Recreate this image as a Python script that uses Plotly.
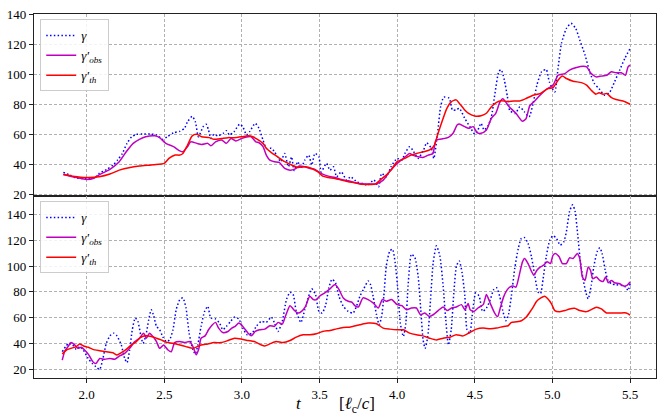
import plotly.graph_objects as go
from plotly.subplots import make_subplots

# ---------------- top panel ----------------
t_gamma_top = [1.85,1.89,1.93,2.0,2.05,2.08,2.13,2.17,2.2,2.23,
               2.26,2.29,2.32,2.36,2.41,2.45,2.49,2.52,2.56,2.6,
               2.63,2.65,2.68,2.70,2.72,2.75,2.77,2.785,2.8,2.82,
               2.845,2.88,2.9,2.92,2.95,2.985,3.006,3.03,3.05,3.086,
               3.11,3.136,3.157,3.19,3.21,3.23,3.25,3.275,3.3,3.32,
               3.336,3.36,3.38,3.405,3.43,3.45,3.47,3.496,3.51,3.545,
               3.567,3.59,3.61,3.64,3.675,3.7,3.74,3.78,3.81,3.85,
               3.88,3.9,3.93,3.96,4.0,4.03,4.05,4.08,4.1,4.135,
               4.17,4.19,4.22,4.236,4.26,4.28,4.3,4.335,4.356,4.38,
               4.4,4.435,4.468,4.5,4.52,4.54,4.56,4.585,4.607,4.63,
               4.655,4.67,4.69,4.71,4.725,4.76,4.79,4.82,4.85,4.875,
               4.9,4.93,4.96,4.98,5.015,5.036,5.058,5.09,5.12,5.15,
               5.176,5.21,5.24,5.27,5.3,5.337,5.37,5.4,5.433,5.466,
               5.5]
gamma_top = [34.7,33,31,30.5,31,34,36.7,39.6,43,47.3,
             54,58.4,60,60.2,60.2,59.6,56.7,58.4,61,62,
             64,68.4,72,68.4,58.4,65,66.7,62.9,57.3,60,
             59,60.7,62.4,59.6,61.8,66.7,65,59.6,61.8,67.3,
             64,56.2,50.7,50.7,48.4,45,41.8,47.3,38.4,45,
             36,41.8,37.3,42.9,46.2,39.6,47.3,45,35,40.7,
             36.2,38.4,31.8,35,29.6,31.8,28.4,27.3,26.2,29.6,
             25.1,34,31.8,38.4,44,42.9,47.3,51.8,49.6,44,
             49.6,54.4,50.7,44,60.7,78.4,84.7,84,76.2,76.2,
             77.3,70.7,65.1,60.2,62.9,67.3,62.9,65.6,71.8,87.3,
             101.8,102.9,96.2,85,76,73.8,78.2,74.9,71.6,80.4,
             92.7,101.6,103.1,94.9,88.2,103.8,120.4,130.4,133.8,130.4,
             122.7,112.7,101.6,93.8,90.4,86,88.2,94.9,102.7,110.4,
             117.1]

t_obs_top = [1.85,1.91,2.0,2.05,2.08,2.15,2.21,2.255,2.3,2.34,
             2.38,2.44,2.47,2.51,2.56,2.6,2.62,2.65,2.67,2.71,
             2.74,2.78,2.8,2.83,2.87,2.9,2.93,2.96,3.0,3.04,
             3.06,3.09,3.11,3.136,3.157,3.18,3.21,3.24,3.276,3.31,
             3.34,3.37,3.405,3.44,3.47,3.51,3.556,3.6,3.64,3.685,
             3.73,3.76,3.82,3.87,3.91,3.95,4.0,4.04,4.08,4.1,
             4.135,4.17,4.2,4.23,4.25,4.285,4.33,4.36,4.386,4.4,
             4.435,4.46,4.49,4.515,4.54,4.575,4.607,4.635,4.66,4.68,
             4.72,4.765,4.806,4.83,4.854,4.886,4.92,4.96,5.004,5.036,
             5.08,5.11,5.155,5.197,5.22,5.25,5.28,5.315,5.35,5.38,
             5.41,5.444,5.47,5.487,5.5]
obs_top = [33.3,31.8,30,31,33,36.7,41.8,48.4,54,56.7,
           58.4,59,57.8,54,51.8,49,48.4,51.8,55,54,
           53.3,54,52.4,55,56.2,54,57.3,55.6,57.3,58.4,
           58.4,55,54.4,51.8,46.2,42.9,41.8,41.3,37.3,36.2,
           36.9,38.9,38.4,37.3,36.7,34,32.2,31.3,30,29.1,
           27.8,27.3,26.9,27.3,29.6,35.1,40.7,44,47.3,46.2,
           45.1,44.7,46.2,47.3,56.2,56.9,58,60.7,66.2,66.9,
           65.1,64,65.1,61.1,60.7,62.9,70.7,74,81,83.6,
           78.5,74,68.7,70.4,79,82.2,86,89.8,92.7,99.3,
           100.4,102.7,104.4,105.3,104.9,100.4,98.2,98.7,99.3,101.6,
           100.9,100.9,99.3,104.9,106]

t_th_top = [1.85,1.91,2.0,2.08,2.15,2.21,2.28,2.34,2.43,2.5,
            2.53,2.57,2.6,2.62,2.65,2.68,2.71,2.74,2.79,2.82,
            2.87,2.91,2.95,3.0,3.04,3.07,3.1,3.136,3.157,3.19,
            3.23,3.276,3.32,3.36,3.405,3.45,3.49,3.52,3.556,3.6,
            3.64,3.685,3.73,3.76,3.82,3.86,3.89,3.93,3.96,4.0,
            4.05,4.09,4.125,4.17,4.21,4.24,4.26,4.285,4.32,4.35,
            4.38,4.4,4.435,4.46,4.5,4.54,4.575,4.607,4.64,4.67,
            4.71,4.75,4.79,4.83,4.875,4.92,4.97,5.004,5.036,5.064,
            5.09,5.133,5.187,5.22,5.25,5.28,5.3,5.326,5.35,5.38,
            5.41,5.455,5.5]
th_top = [33.3,32.2,31.3,31.8,33.6,36.2,38,38.9,39.8,40.7,
          44,46.2,46.2,47.3,52.9,59,60,58.4,57.8,56.7,
          57.3,57.8,57.8,58.4,59,58.4,56.7,54,50.7,47.8,
          45,41.8,39.6,38,38.4,37.3,35,32.2,31.3,30.7,
          29.6,28.4,27.8,26.9,26.7,26.9,29.6,32.9,36.2,41.8,
          44,46.2,47.3,48.4,49.6,52.9,59.6,67.3,77.3,81.8,
          82.9,80.7,76.2,74,72.2,72.4,74,78.4,81.3,82.4,
          81.8,82.2,82.2,83.8,86,87.1,90.4,91.1,96,98.7,
          97.1,95.3,94.4,92.7,89.3,86.7,87.6,86.7,87.1,84.4,
          83.1,82.2,80]

# ---------------- bottom panel ----------------
t_gamma_bot = [1.843,1.865,1.886,1.91,1.933,1.955,1.976,2.01,2.036,2.06,
               2.084,2.105,2.127,2.15,2.174,2.195,2.223,2.245,2.26,2.277,
               2.294,2.313,2.33,2.348,2.363,2.38,2.4,2.416,2.43,2.45,
               2.47,2.49,2.513,2.534,2.556,2.577,2.6,2.62,2.64,2.66,
               2.685,2.7,2.716,2.737,2.76,2.78,2.8,2.83,2.856,2.877,
               2.9,2.927,2.953,2.98,3.006,3.034,3.065,3.093,3.125,3.157,
               3.19,3.21,3.233,3.26,3.287,3.31,3.33,3.35,3.38,3.405,
               3.43,3.45,3.474,3.496,3.517,3.54,3.56,3.58,3.603,3.625,
               3.653,3.685,3.716,3.738,3.76,3.785,3.813,3.828,3.845,3.867,
               3.884,3.9,3.914,3.93,3.953,3.97,3.987,4.006,4.02,4.04,
               4.056,4.07,4.092,4.114,4.135,4.152,4.167,4.18,4.197,4.215,
               4.232,4.253,4.275,4.296,4.313,4.33,4.348,4.365,4.382,4.4,
               4.418,4.436,4.45,4.468,4.485,4.506,4.528,4.55,4.575,4.6,
               4.622,4.64,4.66,4.68,4.7,4.715,4.736,4.757,4.78,4.8,
               4.82,4.843,4.865,4.886,4.908,4.923,4.94,4.96,4.983,5.004,
               5.026,5.05,5.073,5.09,5.11,5.13,5.146,5.163,5.18,5.197,
               5.215,5.23,5.25,5.266,5.288,5.305,5.32,5.34,5.358,5.38,
               5.41,5.444,5.472,5.487,5.5]
gamma_bot = [34,37.8,40.4,39.1,35.7,37.8,35.7,28.7,24.8,22.3,
             20.2,28.7,40.4,46.1,48.2,46.1,39.1,28.7,25.4,35.2,
             50.8,59.9,57.3,46.9,40.4,45.6,58.6,66.3,62.4,53.4,
             50.8,45.6,41.7,43,50.8,66.3,74.1,75.4,67.6,48.2,
             35.2,32.1,39.1,53.4,65,68.9,59.9,59.1,56,50.8,
             53.4,57.3,60.6,59.1,52.1,46.9,48.2,53.4,57.3,56.5,
             60.6,56,49.5,57.3,74.1,79.8,78,65,56.5,66.3,
             76.7,82.4,78,65,63.7,70.2,83.2,89.7,87.1,76.7,
             68.9,65,63.7,68.9,76.7,82.4,88.4,85.8,76.7,62.4,
             54.7,61.1,76.7,100,111.7,113,102.6,79.3,56,45.6,
             56,84.5,109.1,106.5,92.2,66.3,43,36.5,45.6,74.1,
             102.6,115.6,107.8,84.5,58.6,39.1,50.8,79.3,100,103.9,
             94.8,76.7,50.8,48.2,63.7,79.3,76.7,65,67.6,74.1,
             81.9,83.2,76.7,65.6,57.8,61.5,77.3,98,113.6,121.3,
             121.9,117.4,107.1,92.8,79.8,78.6,90.2,107.1,120,123.4,
             121.3,116.1,118.7,126.5,142,147.3,142,123.9,103.2,90.2,
             79.8,74.7,85,99.3,111,114.1,109.7,96.7,88.9,86.3,
             85.6,85,83.7,81.1,86.3]

t_obs_bot = [1.843,1.858,1.88,1.9,1.923,1.944,1.966,1.987,2.015,2.04,
             2.06,2.084,2.116,2.148,2.18,2.212,2.245,2.277,2.31,2.34,
             2.367,2.384,2.405,2.427,2.45,2.47,2.496,2.524,2.545,2.567,
             2.6,2.63,2.663,2.685,2.706,2.722,2.737,2.763,2.785,2.81,
             2.83,2.85,2.877,2.91,2.935,2.957,2.98,3.006,3.04,3.06,
             3.086,3.114,3.147,3.18,3.21,3.233,3.26,3.28,3.31,3.334,
             3.36,3.384,3.41,3.437,3.46,3.48,3.5,3.534,3.567,3.6,
             3.625,3.653,3.685,3.71,3.727,3.75,3.78,3.813,3.845,3.878,
             3.905,3.93,3.964,4.0,4.03,4.06,4.092,4.124,4.15,4.178,
             4.206,4.232,4.264,4.296,4.322,4.35,4.38,4.414,4.436,4.457,
             4.47,4.494,4.52,4.554,4.575,4.6,4.628,4.647,4.665,4.685,
             4.705,4.725,4.747,4.765,4.786,4.807,4.82,4.843,4.865,4.88,
             4.9,4.923,4.944,4.966,4.987,5.004,5.02,5.043,5.064,5.09,
             5.11,5.133,5.16,5.176,5.193,5.21,5.23,5.245,5.26,5.283,
             5.305,5.326,5.343,5.36,5.38,5.4,5.433,5.46,5.48,5.5]
obs_bot = [27.4,33.9,37.8,40.9,39.1,36.5,37.3,35.2,31.3,26.1,
           24.8,28.7,28,28.7,28,30.6,32.6,36.5,41.7,44.3,
           48.2,44.3,48.2,45.6,41.7,36.5,39.1,35.2,33.9,40.9,
           41.7,40.9,41.7,37.8,31.5,36,44.3,46.1,50.8,54.7,
           56.5,52.1,48.7,49.5,52.1,53.4,56,53.4,48.2,46.1,
           49.5,50.8,51.3,53.9,53.4,56.5,55.2,61.2,69.4,66.3,
           63.7,65,68.9,76.7,74.1,74.1,76.7,79.3,82.4,85.8,
           81.9,75.4,72.8,72,69.4,68.4,75.4,74.1,71.5,67.6,
           74.1,72.8,74.1,70.2,69.4,66.3,67.6,67.6,62.4,63.7,
           61.1,62.4,65.6,68.4,65.6,67.6,68.4,70.2,66.3,71,
           66.3,65,67.6,70.2,78,71,63.7,61,68,76,
           81,83.7,84.5,83.7,92.8,103.2,105.8,101.9,95.9,92.8,
           96.7,99.3,100.6,103.2,101.9,108.4,109.7,107.1,101.9,101.9,
           106.3,105.8,109.7,105.8,91.5,88.9,99.3,96.7,90.2,91.5,
           88.9,88.1,91.5,87.1,88.9,87.1,86.3,84.5,85,87.6]

t_th_bot = [1.843,1.87,1.9,1.933,1.955,1.98,2.01,2.04,2.084,2.127,
            2.17,2.195,2.223,2.255,2.288,2.32,2.35,2.38,2.416,2.45,
            2.48,2.513,2.556,2.6,2.64,2.685,2.737,2.78,2.82,2.866,
            2.91,2.953,3.0,3.04,3.08,3.125,3.147,3.18,3.22,3.265,
            3.31,3.35,3.394,3.437,3.48,3.52,3.567,3.61,3.653,3.7,
            3.76,3.813,3.867,3.91,3.953,4.0,4.04,4.08,4.124,4.167,
            4.21,4.253,4.296,4.34,4.38,4.425,4.468,4.51,4.554,4.6,
            4.64,4.686,4.715,4.736,4.768,4.8,4.83,4.854,4.876,4.897,
            4.923,4.95,4.97,4.994,5.015,5.047,5.08,5.11,5.143,5.176,
            5.22,5.25,5.283,5.315,5.348,5.39,5.433,5.476,5.5]
th_bot = [32.1,35.2,36.5,37.8,39.9,38.3,37.3,35.7,34.7,33.9,
          33.1,31.3,33.1,35.7,39.1,41.7,45.1,46.1,45.6,44.3,
          43,41.2,40.4,39.1,37.8,36.5,39.1,39.9,40.9,40.9,
          42.5,44.3,43.5,42.5,41.7,39.1,38.3,39.9,41.7,40.9,
          42.5,45.1,46.9,46.9,47.7,49.5,50.3,51.5,52.5,52.9,
          54.7,56,55.5,52.1,51.3,50.8,50.8,48.2,46.9,46.1,
          44.3,43,44.3,45.1,46.9,46.1,48.7,51.3,52.1,51.6,
          52.1,53.4,53.9,56.5,57,57.8,60.4,64.3,68.2,72.6,
          75.2,76.7,74.7,70.8,65.6,64.8,65.6,66.9,67.4,65.6,
          64.8,66.4,68.2,66.9,63.8,63.8,63.8,63.8,62.2]

y_ticks = [20, 40, 60, 80, 100, 120, 140]
x_ticks = [2.0, 2.5, 3.0, 3.5, 4.0, 4.5, 5.0, 5.5]
names = ['<i>γ</i>', '<i>γ′<sub>obs</sub></i>', '<i>γ′<sub>th</sub></i>']

pairs = [(t_gamma_top, gamma_top), (t_obs_top, obs_top), (t_th_top, th_top),
         (t_gamma_bot, gamma_bot), (t_obs_bot, obs_bot), (t_th_bot, th_bot)]
for a, b in pairs:
    assert len(a) == len(b), (len(a), len(b))

SERIF = "Liberation Serif, DejaVu Serif, Times New Roman, serif"
BLUE, MAG, RED = "#0000ff", "#bf00bf", "#ff0000"
styles = [dict(color=BLUE, width=1.5, dash="1.5px,2.3px"),
          dict(color=MAG, width=1.5),
          dict(color=RED, width=1.5)]

fig = make_subplots(rows=2, cols=1, shared_xaxes=True, vertical_spacing=0)

for row, legend in ((1, "legend"), (2, "legend2")):
    series = pairs[:3] if row == 1 else pairs[3:]
    for (tx, vy), nm, st in zip(series, names, styles):
        fig.add_trace(go.Scatter(x=tx, y=vy, mode="lines", name=nm,
                                 line=dict(shape="spline", smoothing=0.6, **st),
                                 legend=legend),
                      row=row, col=1)

common_axis = dict(showline=True, mirror=True, linecolor="#222222", linewidth=1.2,
                   showgrid=True, gridcolor="#b0b0b0", gridwidth=0.8, griddash="3px,2px",
                   zeroline=False, tickfont=dict(family=SERIF, size=13, color="black"))

NB = "\u00a0"
x_title = "<i>t</i>" + NB * 9 + "[<i>ℓ</i><sub>c</sub>/<i>c</i>]"

fig.update_xaxes(range=[1.661, 5.667], tickvals=x_ticks, tickformat=".1f", **common_axis)
fig.update_xaxes(showticklabels=False, ticks="", row=1, col=1)
fig.update_xaxes(ticks="outside", ticklen=4, tickcolor="#222222", row=2, col=1)
fig.update_yaxes(tickvals=y_ticks, ticks="outside", ticklen=4, tickcolor="#222222", **common_axis)
fig.update_yaxes(range=[19, 140], row=1, col=1)
fig.update_yaxes(range=[13.6, 154], row=2, col=1)

fig.add_annotation(text=x_title, xref="paper", yref="paper", x=0.484, y=-0.074,
                   xanchor="center", yanchor="middle", showarrow=False,
                   font=dict(family=SERIF, size=17, color="black"))

legend_style = dict(xanchor="left", yanchor="top", bgcolor="rgba(255,255,255,0.85)",
                    bordercolor="#cccccc", borderwidth=1, itemwidth=30,
                    font=dict(family=SERIF, size=13, color="black"), tracegroupgap=0)

fig.update_layout(
    width=657, height=419,
    margin=dict(l=34, r=1, t=14, b=41),
    plot_bgcolor="white", paper_bgcolor="white",
    showlegend=True,
    legend=dict(x=0.01, y=0.985, **legend_style),
    legend2=dict(x=0.01, y=0.485, **legend_style),
)

fig.write_html("out.html", config={"displayModeBar": False},
               post_script="document.body.style.margin='0px';")
